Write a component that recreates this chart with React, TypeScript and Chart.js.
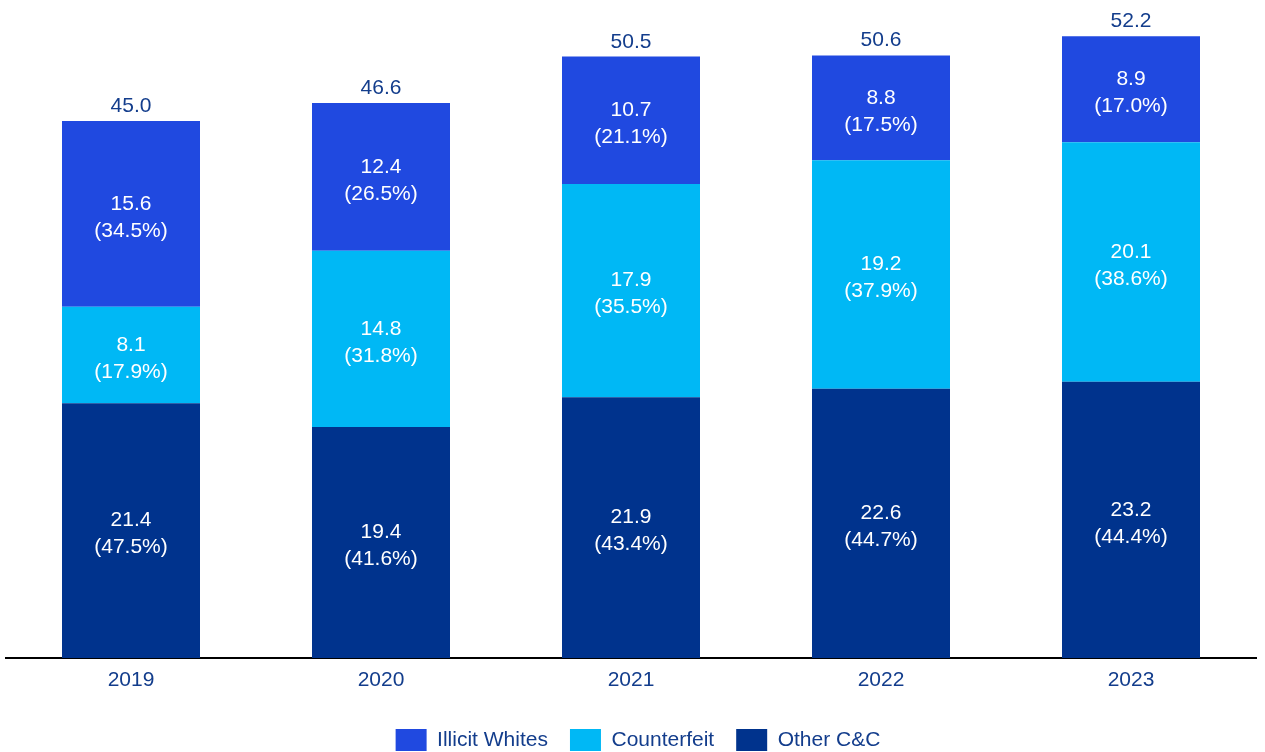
import React, { useEffect, useRef } from "react";
import { Chart, registerables } from "chart.js";

Chart.register(...registerables);

const years = ["2019", "2020", "2021", "2022", "2023"];
const otherCC = [21.4, 19.4, 21.9, 22.6, 23.2];
const otherCCPct = [47.5, 41.6, 43.4, 44.7, 44.4];
const counterfeit = [8.1, 14.8, 17.9, 19.2, 20.1];
const counterfeitPct = [17.9, 31.8, 35.5, 37.9, 38.6];
const illicitWhites = [15.6, 12.4, 10.7, 8.8, 8.9];
const illicitWhitesPct = [34.5, 26.5, 21.1, 17.5, 17.0];
const totals = [45.0, 46.6, 50.5, 50.6, 52.2];

const FONT = "'Liberation Sans', Arial, sans-serif";
const NAVY_TEXT = "#133d8c";
const H = 761;

const labelsPlugin = {
  id: "segLabels",
  afterLayout(chart: any) {
    if (chart.legend) {
      chart.legend.left += 7;
      chart.legend.right += 7;
    }
  },
  afterDatasetsDraw(chart: any) {
    const ctx = chart.ctx;
    ctx.save();
    ctx.font = `21px ${FONT}`;
    ctx.textAlign = "center";
    ctx.textBaseline = "middle";
    chart.data.datasets.forEach((ds: any, di: number) => {
      const meta = chart.getDatasetMeta(di);
      meta.data.forEach((bar: any, i: number) => {
        const cy = (bar.y + bar.base) / 2;
        ctx.fillStyle = "#ffffff";
        ctx.fillText(ds.data[i].toFixed(1), bar.x, cy - 10);
        ctx.fillText(`(${ds.pcts[i].toFixed(1)}%)`, bar.x, cy + 17);
      });
    });
    const lastMeta = chart.getDatasetMeta(chart.data.datasets.length - 1);
    ctx.fillStyle = NAVY_TEXT;
    ctx.textBaseline = "alphabetic";
    lastMeta.data.forEach((bar: any, i: number) => {
      ctx.fillText(totals[i].toFixed(1), bar.x, bar.y - 9);
    });
    ctx.restore();
  },
};

export default function App() {
  const ref = useRef<HTMLCanvasElement>(null);
  useEffect(() => {
    if (!ref.current) return;
    const chart = new Chart(ref.current, {
      type: "bar",
      data: {
        labels: years,
        datasets: [
          { label: "Other C&C", data: otherCC, pcts: otherCCPct, backgroundColor: "#00338d" } as any,
          { label: "Counterfeit", data: counterfeit, pcts: counterfeitPct, backgroundColor: "#00b8f5" } as any,
          { label: "Illicit Whites", data: illicitWhites, pcts: illicitWhitesPct, backgroundColor: "#2049e0" } as any,
        ],
      },
      options: {
        animation: false,
        responsive: false,
        maintainAspectRatio: false,
        layout: { padding: { left: 6, right: 9, top: 3, bottom: 0 } },
        datasets: { bar: { barPercentage: 0.552, categoryPercentage: 1 } },
        scales: {
          x: {
            stacked: true,
            grid: { display: false, drawTicks: false },
            border: { display: true, color: "#000000", width: 2 },
            ticks: { color: NAVY_TEXT, font: { family: FONT, size: 21 }, padding: 10 },
            afterFit: (s: any) => { s.height = 49; },
          },
          y: { stacked: true, display: false, min: 0, max: 55 },
        },
        plugins: {
          legend: {
            position: "bottom",
            reverse: true,
            labels: {
              boxWidth: 31,
              boxHeight: 22,
              padding: 22,
              color: NAVY_TEXT,
              font: { family: FONT, size: 21 },
            },
          },
          tooltip: { enabled: false },
        },
      },
      plugins: [labelsPlugin],
    });
    return () => chart.destroy();
  }, []);
  return (
    <div style={{ position: "fixed", left: 0, top: 0, width: 1265, height: H, background: "#fff" }}>
      <canvas ref={ref} width={1265} height={H} style={{ width: 1265, height: H, display: "block" }} />
    </div>
  );
}
